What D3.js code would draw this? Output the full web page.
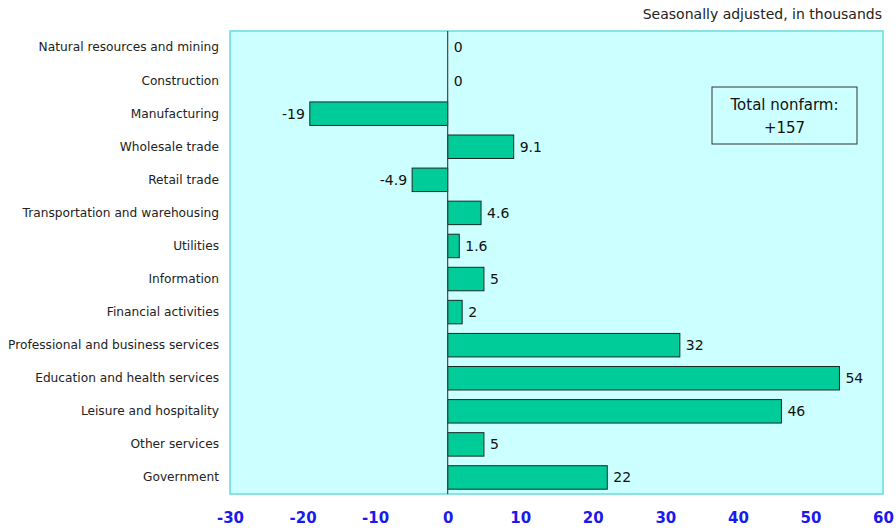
<!DOCTYPE html>
<html>
    <head>
        <meta charset="utf-8">
        <script src="https://d3js.org/d3.v7.min.js"></script>
        <style>
            body { margin: 0; background: #fff; }
            text { font-family: Tahoma, "DejaVu Sans", sans-serif; }
        </style>
    </head>
    <body>
        <script>
            const categories = [
                'Natural resources and mining', 'Construction', 'Manufacturing',
                'Wholesale trade', 'Retail trade', 'Transportation and warehousing',
                'Utilities', 'Information', 'Financial activities',
                'Professional and business services', 'Education and health services',
                'Leisure and hospitality', 'Other services', 'Government'
            ]
            const values = [0, 0, -19, 9.1, -4.9, 4.6, 1.6, 5, 2, 32, 54, 46, 5, 22]
            const tickValues = [-30, -20, -10, 0, 10, 20, 30, 40, 50, 60]
            const subtitle = 'Seasonally adjusted, in thousands'
            const totalLines = ['Total nonfarm:', '+157']

            const margin = { top: 31, right: 13, bottom: 37, left: 230 }
            const svg = d3.select('body').append('svg')
                .attr('width', 896).attr('height', 531)
            const width = 896 - margin.left - margin.right
            const height = 531 - margin.top - margin.bottom

            const g = svg.append('g')
                .attr('transform', `translate(${margin.left}, ${margin.top})`)

            const xScale = d3.scaleLinear().domain([-30, 60]).range([0, width])
            const yScale = d3.scaleBand().domain(categories).range([0, height]).paddingInner(0.29).paddingOuter(0.145)

            g.append('rect').attr('x', 0).attr('y', 0).attr('width', width).attr('height', height)
                .attr('fill', '#ccffff').attr('stroke', '#66dddd').attr('stroke-width', 1.5)

            g.selectAll('.bar')
                .data(values).enter()
                .append('rect')
                    .attr('class', 'bar')
                    .attr('x', d => xScale(Math.min(0, d)))
                    .attr('y', (d, i) => yScale(categories[i]))
                    .attr('width', d => Math.abs(xScale(d) - xScale(0)))
                    .attr('height', yScale.bandwidth())
                    .attr('fill', '#00cc99').attr('stroke', '#1a2a24').attr('stroke-width', 1)
                    .attr('opacity', d => d === 0 ? 0 : 1)

            g.append('line')
                .attr('x1', xScale(0)).attr('x2', xScale(0))
                .attr('y1', 0).attr('y2', height)
                .attr('stroke', '#444').attr('stroke-width', 1.2)

            g.selectAll('.val')
                .data(values).enter()
                .append('text')
                    .attr('class', 'val')
                    .attr('x', d => d < 0 ? xScale(d) - 5 : xScale(d) + 6)
                    .attr('y', (d, i) => yScale(categories[i]) + yScale.bandwidth() / 2)
                    .attr('dy', '0.35em')
                    .attr('text-anchor', d => d < 0 ? 'end' : 'start')
                    .attr('font-size', 14).attr('fill', '#111')
                    .text(d => d)

            const yAxis = d3.axisLeft(yScale).tickSize(0).tickPadding(11)
            const ya = g.append('g').call(yAxis)
            ya.select('.domain').remove()
            ya.selectAll('text').attr('font-size', 12.2).attr('fill', '#222')
                .style('font-family', 'Tahoma, "DejaVu Sans", sans-serif')

            const xAxis = d3.axisBottom(xScale).tickValues(tickValues).tickSize(0).tickPadding(18)
                .tickFormat(d => String(d))
            const xa = g.append('g').attr('transform', `translate(0, ${height})`).call(xAxis)
            xa.select('.domain').remove()
            xa.selectAll('text').attr('font-size', 15).attr('font-weight', 'bold').attr('fill', '#1a1aee')
                .style('font-family', 'Verdana, "DejaVu Sans", sans-serif')

            svg.append('text')
                .attr('x', 882).attr('y', 19)
                .attr('text-anchor', 'end').attr('font-size', 14).attr('fill', '#222')
                .text(subtitle)

            const bx = 712, by = 87, bw = 145, bh = 57
            svg.append('rect').attr('x', bx).attr('y', by).attr('width', bw).attr('height', bh)
                .attr('fill', 'none').attr('stroke', '#333').attr('stroke-width', 1)
            svg.selectAll('.tot')
                .data(totalLines).enter()
                .append('text')
                    .attr('class', 'tot')
                    .attr('x', bx + bw / 2)
                    .attr('y', (d, i) => by + 23 + i * 23)
                    .attr('text-anchor', 'middle').attr('font-size', 15).attr('fill', '#111')
                    .text(d => d)
        </script>
    </body>
</html>
